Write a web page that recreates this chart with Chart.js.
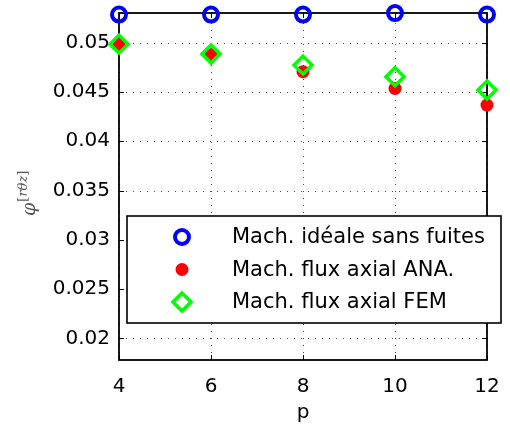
<!DOCTYPE html>
<html><head><meta charset="utf-8">
<script src="https://cdn.jsdelivr.net/npm/chart.js@4.4.1/dist/chart.umd.min.js"></script>
<style>html,body{margin:0;padding:0;background:#fff}#wrap{width:510px;height:430px;position:relative}</style>
</head><body><div id="wrap"><canvas id="c"></canvas></div>
<script>
const pValues = [4, 6, 8, 10, 12];
const idealValues = [0.05286, 0.05286, 0.05286, 0.05301, 0.05286];
const anaValues = [0.04986, 0.04880, 0.04706, 0.04536, 0.04367];
const femValues = [0.04986, 0.04885, 0.04773, 0.04655, 0.04520];
const xTicks = [4, 6, 8, 10, 12];
const yTicks = [0.02, 0.025, 0.03, 0.035, 0.04, 0.045, 0.05];
const seriesLabels = ['Mach. idéale sans fuites', 'Mach. flux axial ANA.', 'Mach. flux axial FEM'];
const yRange = [0.0178, 0.05302];
const xRange = [4, 12];
const xTitle = 'p';

const TICK_FONT = {family: '"DejaVu Sans"', size: 20};
const pts = vals => pValues.map((p, i) => ({x: p, y: vals[i]}));

const styles = [
  {pointStyle: 'circle', radius: 7, borderWidth: 4, borderColor: '#0000ff', backgroundColor: 'rgba(0,0,0,0)'},
  {pointStyle: 'circle', radius: 6.5, borderWidth: 0, borderColor: '#ff0000', backgroundColor: '#ff0000'},
  {pointStyle: 'rectRot', radius: 9, borderWidth: 3.5, borderColor: '#00ff00', backgroundColor: 'rgba(0,0,0,0)'}
];

const zeroPad = s => { s.paddingTop = 0; s.paddingBottom = 0; s.paddingLeft = 0; s.paddingRight = 0; };

const framePlugin = {
  id: 'frame',
  beforeDatasetsDraw(chart) {
    const {ctx, chartArea: a, scales: {x, y}} = chart;
    ctx.save();
    ctx.strokeStyle = '#444';
    ctx.lineWidth = 1;
    ctx.setLineDash([1, 6]);
    xTicks.forEach(v => {
      const px = Math.round(x.getPixelForValue(v)) + 0.5;
      ctx.beginPath(); ctx.moveTo(px, a.bottom); ctx.lineTo(px, a.top); ctx.stroke();
    });
    yTicks.forEach(v => {
      const py = Math.round(y.getPixelForValue(v)) + 0.5;
      ctx.beginPath(); ctx.moveTo(a.left, py); ctx.lineTo(a.right, py); ctx.stroke();
    });
    ctx.setLineDash([]);
    ctx.strokeStyle = '#000';
    ctx.lineWidth = 1;
    const tl = 5;
    xTicks.forEach(v => {
      const px = Math.round(x.getPixelForValue(v)) + 0.5;
      ctx.beginPath(); ctx.moveTo(px, a.bottom); ctx.lineTo(px, a.bottom - tl); ctx.stroke();
      ctx.beginPath(); ctx.moveTo(px, a.top); ctx.lineTo(px, a.top + tl); ctx.stroke();
    });
    yTicks.forEach(v => {
      const py = Math.round(y.getPixelForValue(v)) + 0.5;
      ctx.beginPath(); ctx.moveTo(a.left, py); ctx.lineTo(a.left + tl, py); ctx.stroke();
      ctx.beginPath(); ctx.moveTo(a.right, py); ctx.lineTo(a.right - tl, py); ctx.stroke();
    });
    ctx.lineWidth = 1.8;
    ctx.strokeRect(a.left, a.top, a.right - a.left, a.bottom - a.top);
    ctx.restore();
  },
  afterDatasetsDraw(chart) {
    const {ctx, chartArea: a} = chart;
    ctx.save();
    const bx = a.left + 8, by = a.top + 203, bw = 374, bh = 107;
    ctx.fillStyle = '#fff';
    ctx.fillRect(bx, by, bw, bh);
    ctx.strokeStyle = '#000';
    ctx.lineWidth = 1.6;
    ctx.strokeRect(bx, by, bw, bh);
    const rows = [by + 21, by + 53.5, by + 86];
    seriesLabels.forEach((lab, i) => {
      const s = styles[i];
      ctx.fillStyle = s.backgroundColor;
      ctx.strokeStyle = s.borderColor;
      ctx.lineWidth = s.borderWidth;
      Chart.helpers.drawPoint(ctx, {pointStyle: s.pointStyle, radius: s.radius, rotation: 0, borderWidth: s.borderWidth}, bx + 55, rows[i]);
      ctx.fillStyle = '#000';
      ctx.font = '21px "DejaVu Sans"';
      ctx.textBaseline = 'middle';
      ctx.textAlign = 'left';
      ctx.fillText(lab, bx + 105, rows[i] + 1);
    });
    ctx.translate(35, 216);
    ctx.rotate(-Math.PI / 2);
    ctx.fillStyle = '#555';
    ctx.textBaseline = 'alphabetic';
    ctx.textAlign = 'left';
    ctx.font = 'italic 19px "DejaVu Serif"';
    ctx.fillText('φ', 0, 0);
    let u = ctx.measureText('φ').width + 1;
    const sup = [['[', '13px "DejaVu Serif"'], ['rθz', 'italic 13px "DejaVu Serif"'], [']', '13px "DejaVu Serif"']];
    sup.forEach(([t, f]) => {
      ctx.font = f;
      ctx.fillText(t, u, -8);
      u += ctx.measureText(t).width;
    });
    ctx.restore();
  }
};

const datasets = [0, 1, 2].map(i => ({
  label: seriesLabels[i],
  data: pts([idealValues, anaValues, femValues][i]),
  pointStyle: styles[i].pointStyle,
  pointRadius: styles[i].radius,
  pointBorderWidth: styles[i].borderWidth,
  pointBorderColor: styles[i].borderColor,
  pointBackgroundColor: styles[i].backgroundColor,
  borderColor: styles[i].borderColor,
  backgroundColor: styles[i].backgroundColor,
  showLine: false,
  clip: false,
  order: 3 - i
}));

new Chart(document.getElementById('c'), {
  type: 'scatter',
  data: {datasets},
  options: {
    responsive: true,
    maintainAspectRatio: false,
    animation: false,
    events: [],
    layout: {padding: {top: 13, right: 23, left: 0, bottom: 0}},
    plugins: {legend: {display: false}, tooltip: {enabled: false}},
    scales: {
      x: {
        type: 'linear', min: xRange[0], max: xRange[1],
        afterBuildTicks: s => { s.ticks = xTicks.map(v => ({value: v})); },
        afterFit: s => { s.height = 70; zeroPad(s); },
        grid: {display: false, drawTicks: false},
        border: {display: false},
        ticks: {font: TICK_FONT, color: '#000', padding: 15, maxRotation: 0, autoSkip: false, callback: v => String(v)},
        title: {display: true, text: xTitle, font: TICK_FONT, color: '#000', padding: {top: 0, bottom: 5}}
      },
      y: {
        type: 'linear', min: yRange[0], max: yRange[1],
        afterBuildTicks: s => { s.ticks = yTicks.map(v => ({value: v})); },
        afterFit: s => { s.width = 119; zeroPad(s); },
        grid: {display: false, drawTicks: false},
        border: {display: false},
        ticks: {font: TICK_FONT, color: '#000', padding: 9, autoSkip: false, callback: v => String(Number(v.toFixed(4)))}
      }
    }
  },
  plugins: [framePlugin]
});
</script>
</body></html>
